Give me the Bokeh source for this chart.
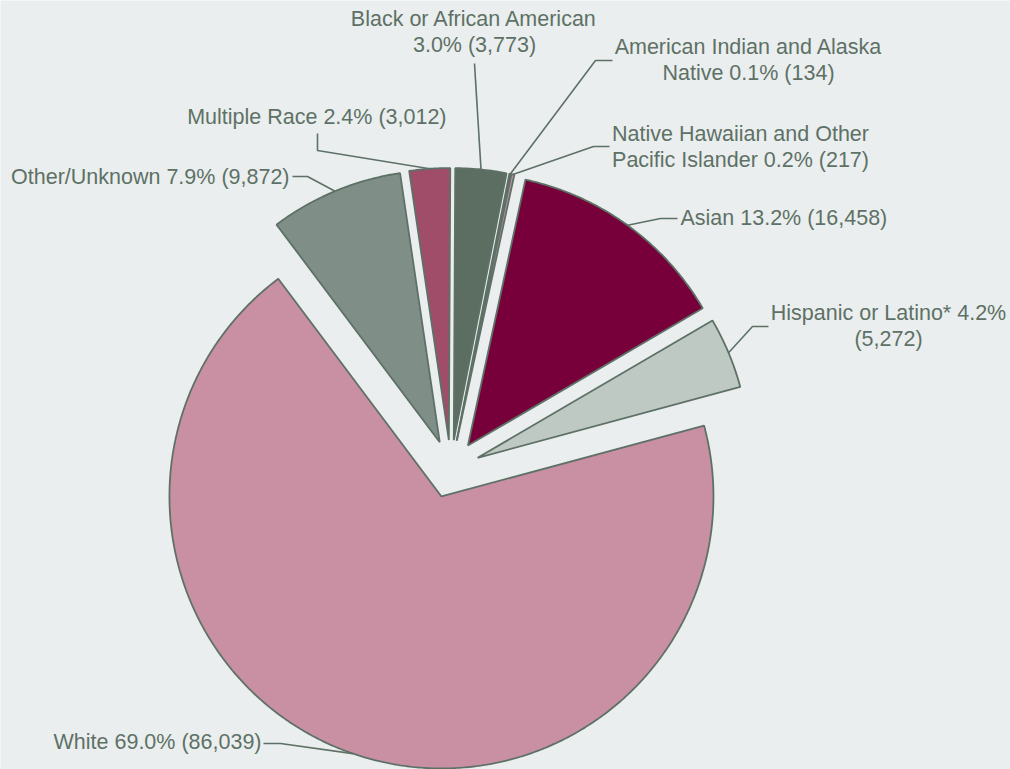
import numpy as np
from bokeh.plotting import figure
from bokeh.models import Range1d
from bokeh.core.properties import value
from bokeh.embed import file_html
from bokeh.resources import INLINE

# ---------------- data ----------------
categories = ["Black or African American", "American Indian and Alaska Native",
              "Native Hawaiian and Other Pacific Islander", "Asian",
              "Hispanic or Latino*", "White", "Other/Unknown", "Multiple Race"]
counts = [3773, 134, 217, 16458, 5272, 86039, 9872, 3012]

# ---------------- style / layout ----------------
colors = ["#5C6E62", "#D3A3B3", "#C98FA2", "#78003A", "#BFC9C3", "#C98FA2", "#7F8E86", "#A04D69"]
BG = "#EAEEEE"
INK = "#5E7166"
FONT = "Liberation Sans"
W, H = 1010, 769
CX, CY = 450.4, 468.5     # pie centre (pixel space)
R = 272.0                 # radius
SLICE_OFF = 29.0          # explode offset
START_DEG = 0.3
TEXT_DY = -8.0

# number of words on first label line (None = single line)
wrap_words = [4, 4, 4, None, 4, None, None, None]
# label anchor x, first baseline y, alignment (same order as categories)
label_x = [474, 748, 740, 680, 888, 261, 289, 446]
label_y = [26.7, 54, 141, 225, 320, 749, 184, 124]
label_align = ["center", "center", "center", "left", "center", "right", "right", "right"]
LINE_H = 26
# connector start + elbow points
conn_pts = [
    [(474, 63)],
    [(612, 60), (595, 60)],
    [(609, 146), (593, 146)],
    [(677, 218), (660, 218)],
    [(768, 326), (752, 326)],
    [(263, 743), (280, 743)],
    [(292, 176), (307, 176)],
    [(317, 133), (317, 150)],
]

total = float(sum(counts))
fracs = [c / total for c in counts]

p = figure(width=W, height=H, x_range=Range1d(0, W), y_range=Range1d(H, 0),
           output_backend="svg", toolbar_location=None, x_axis_type=None, y_axis_type=None,
           min_border=0, min_border_left=0, min_border_right=0, min_border_top=0, min_border_bottom=0)
p.grid.visible = False
p.outline_line_color = None
p.background_fill_color = BG
p.border_fill_color = BG

xs, ys = [], []
conn_xs, conn_ys = [], []
texts = {"left": ([], [], []), "center": ([], [], []), "right": ([], [], [])}
cum = START_DEG
for i, f in enumerate(fracs):
    a0 = np.radians(cum)
    a1 = np.radians(cum + f * 360.0)
    am = 0.5 * (a0 + a1)
    cum += f * 360.0
    ax = CX + SLICE_OFF * np.sin(am)
    ay = CY - SLICE_OFF * np.cos(am)
    th = np.linspace(a0, a1, max(4, int(f * 720)))
    px = [ax] + list(ax + R * np.sin(th)) + [ax]
    py = [ay] + list(ay - R * np.cos(th)) + [ay]
    xs.append(px)
    ys.append(py)
    # connector end on the slice rim at mid angle
    ex = CX + (SLICE_OFF + R) * np.sin(am)
    ey = CY - (SLICE_OFF + R) * np.cos(am)
    pts = conn_pts[i] + [(ex, ey)]
    conn_xs.append([q[0] for q in pts])
    conn_ys.append([q[1] for q in pts])
    # label
    full = f"{categories[i]} {100 * f:.1f}% ({counts[i]:,})"
    words = full.split(" ")
    if wrap_words[i]:
        lines = [" ".join(words[:wrap_words[i]]), " ".join(words[wrap_words[i]:])]
    else:
        lines = [full]
    tx, ty, tt = texts[label_align[i]]
    for k, ln in enumerate(lines):
        tx.append(label_x[i])
        ty.append(label_y[i] + k * LINE_H + TEXT_DY)
        tt.append(ln)

p.patches(xs, ys, fill_color=colors, line_color=INK, line_width=1.8)
p.multi_line(conn_xs, conn_ys, line_color=INK, line_width=1.6)
for al, (tx, ty, tt) in texts.items():
    if tt:
        p.text(tx, ty, text=tt, text_align=al, text_baseline="alphabetic",
               text_font=value(FONT), text_font_size="21.5px", text_color=INK)

open("out.html", "w").write(file_html(p, INLINE))
